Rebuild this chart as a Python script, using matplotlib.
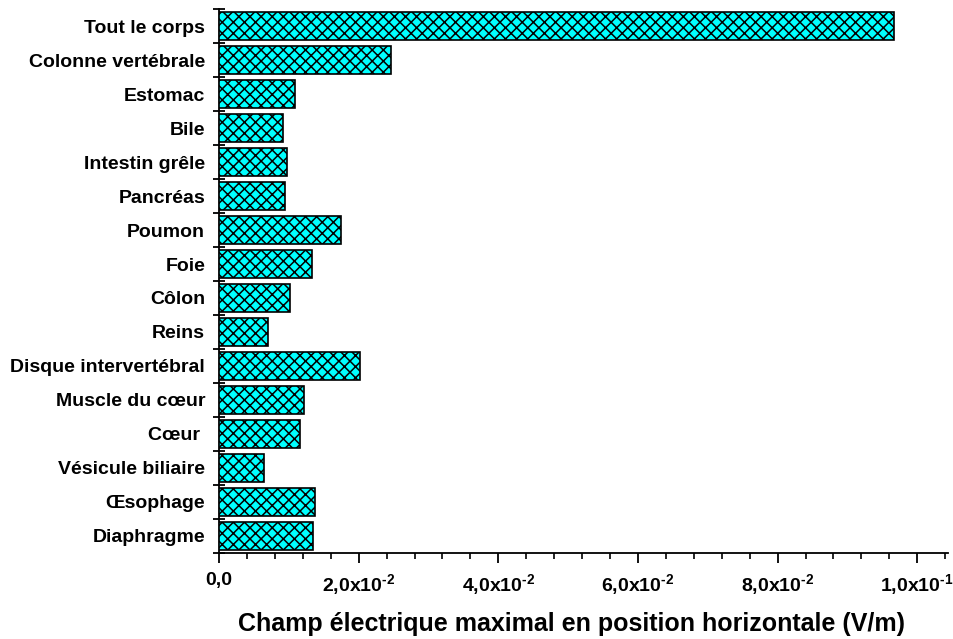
import matplotlib
matplotlib.use("Agg")
import matplotlib.pyplot as plt
from matplotlib.ticker import MultipleLocator, FixedLocator

plt.rcParams['font.family'] = ['Liberation Sans', 'DejaVu Sans']
plt.rcParams['font.weight'] = 'bold'
plt.rcParams['mathtext.default'] = 'regular'
plt.rcParams['hatch.linewidth'] = 1.1

# organes (de haut en bas) et champ électrique maximal (V/m)
organes = ['Tout le corps', 'Colonne vertébrale', 'Estomac', 'Bile', 'Intestin grêle',
           'Pancréas', 'Poumon', 'Foie', 'Côlon', 'Reins', 'Disque intervertébral',
           'Muscle du cœur', 'Cœur ', 'Vésicule biliaire', 'Œsophage', 'Diaphragme']
champ = [0.0967, 0.0246, 0.0109, 0.0091, 0.0098,
         0.0094, 0.0174, 0.0133, 0.0102, 0.0070, 0.0202,
         0.0121, 0.0116, 0.0065, 0.0137, 0.0135]

xticks = [0.0, 0.02, 0.04, 0.06, 0.08, 0.10]
xlabels = ['0,0', '2,0x10$^{\u20102}$', '4,0x10$^{\u20102}$', '6,0x10$^{\u20102}$',
           '8,0x10$^{\u20102}$', '1,0x10$^{\u20101}$']

fig = plt.figure(figsize=(9.54, 6.39), dpi=100, facecolor='w')
ax = fig.add_axes([0.2296, 0.1346, 0.9937 - 0.2296, 0.9859 - 0.1346])

pos = list(range(len(organes)))
ax.barh(pos, champ, height=0.82, color='#00FFFF', edgecolor='black',
        linewidth=1.2, hatch='xxx', zorder=3)

ax.set_ylim(len(organes) - 0.5, -0.5)
ax.set_xlim(0, 0.1044)

ax.set_yticks(pos)
ax.set_yticklabels(organes, fontsize=14, fontweight='bold')
ax.yaxis.set_minor_locator(FixedLocator([p + 0.5 for p in range(-1, len(organes))]))
ax.tick_params(axis='y', which='major', length=0, pad=10)
ax.tick_params(axis='y', which='minor', direction='inout', length=8, width=1.3)

ax.set_xticks(xticks)
ax.set_xticklabels(xlabels, fontsize=14, fontweight='bold')
ax.xaxis.set_minor_locator(MultipleLocator(0.004))
ax.tick_params(axis='x', which='major', direction='out', length=7, width=1.3, pad=7)
ax.tick_params(axis='x', which='minor', direction='out', length=4, width=1.2)

ax.spines['top'].set_visible(False)
ax.spines['right'].set_visible(False)
ax.spines['left'].set_linewidth(1.3)
ax.spines['bottom'].set_linewidth(1.3)

ax.set_xlabel('Champ électrique maximal en position horizontale (V/m)',
              fontsize=18, fontweight='bold')
ax.xaxis.set_label_coords(0.483, -0.108)

fig.savefig('out.png', dpi=100)
